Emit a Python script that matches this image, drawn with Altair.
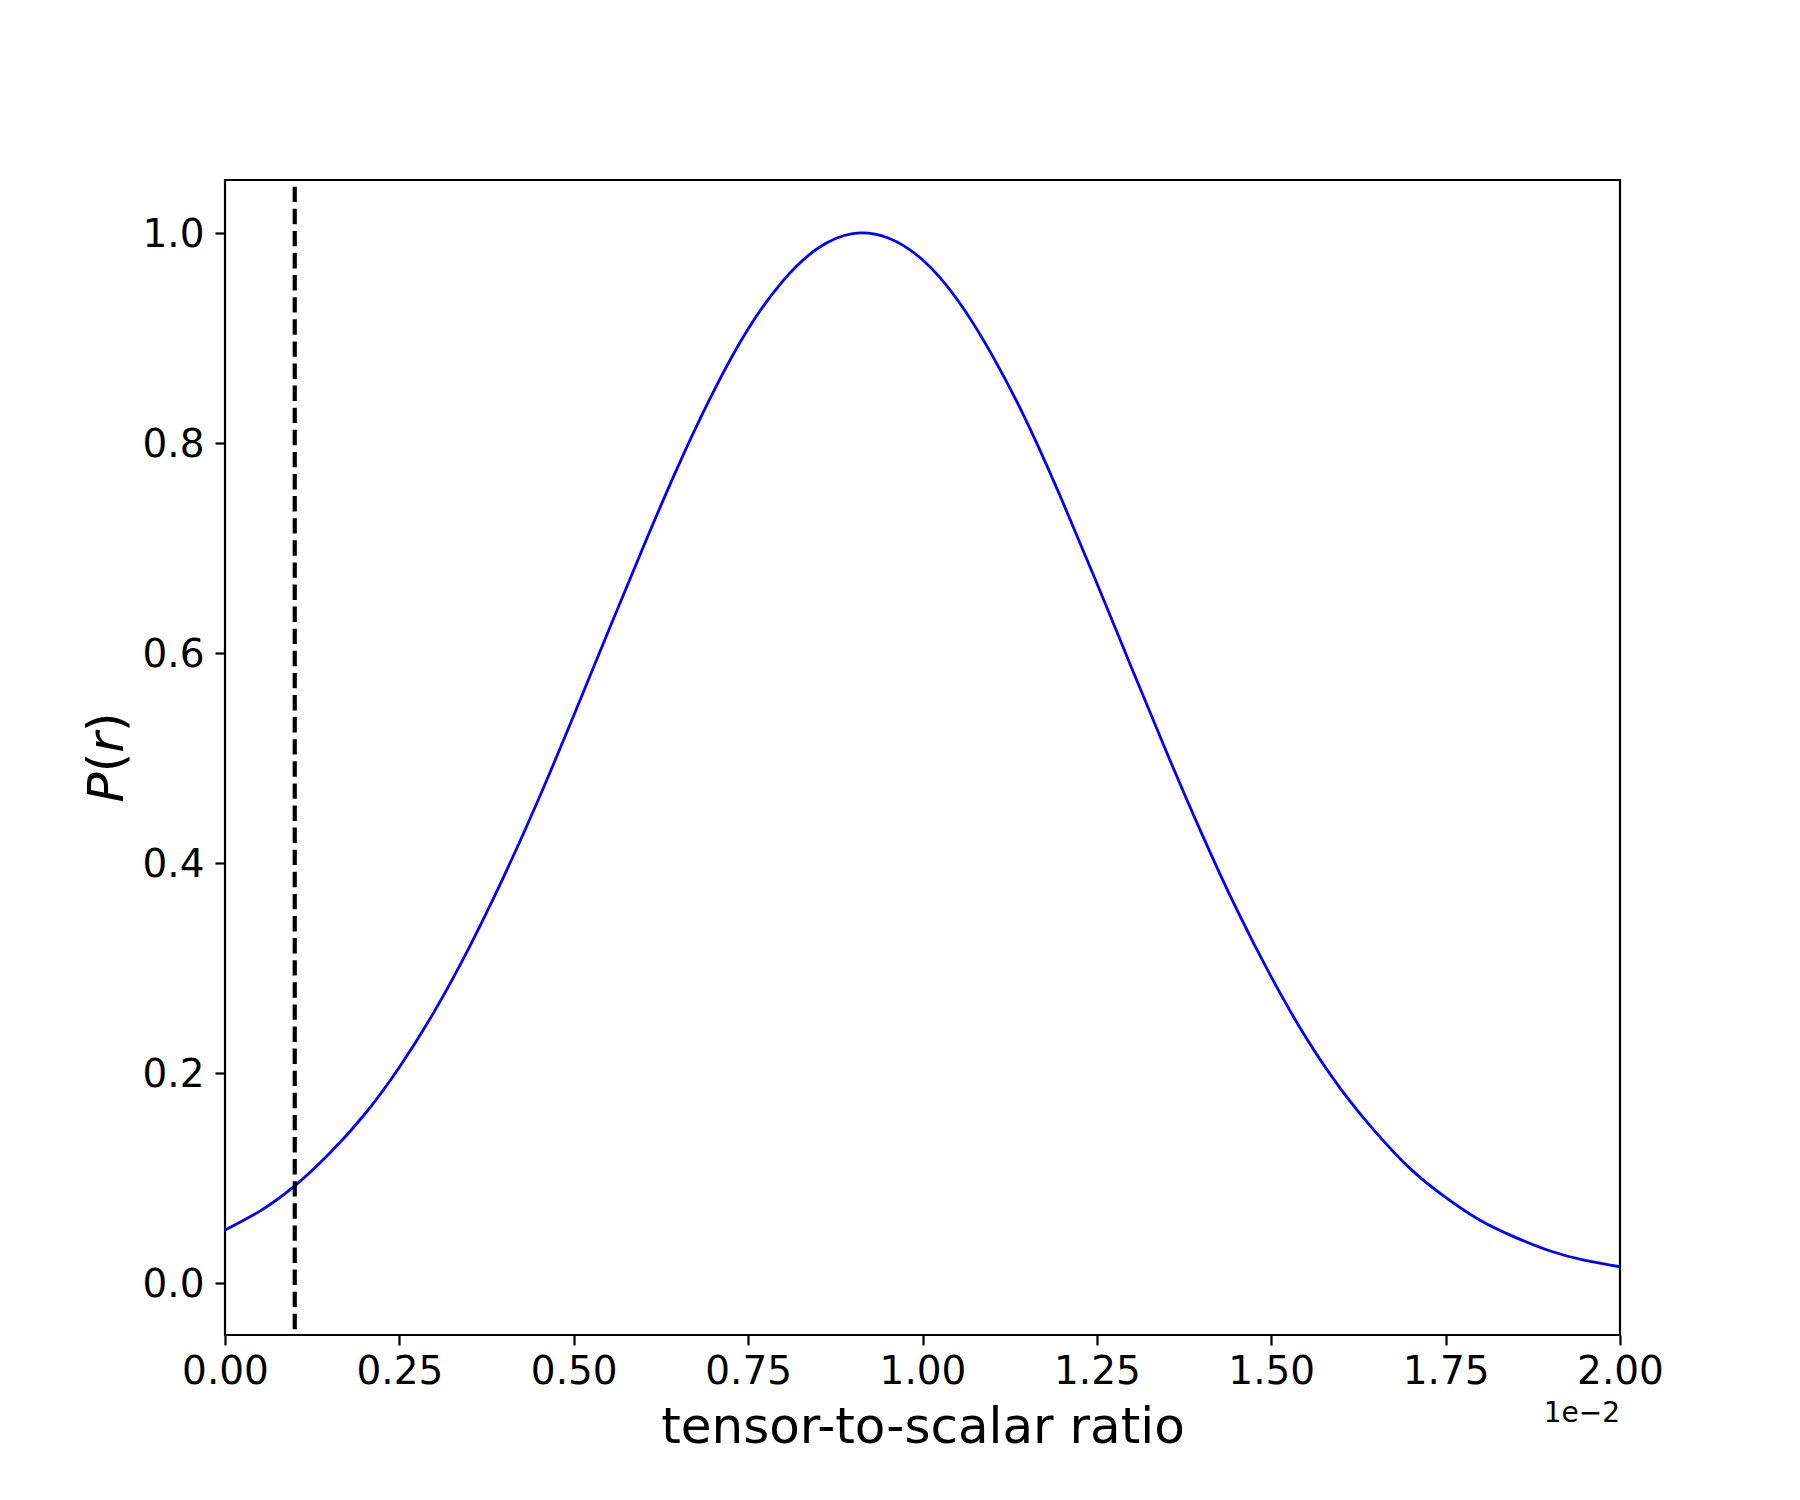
import altair as alt
import pandas as pd

# tensor-to-scalar ratio in units of 1e-2, and normalised probability P(r)
r_vals = [0.00, 0.05, 0.10, 0.15, 0.20, 0.25, 0.30, 0.35, 0.40, 0.45,
          0.50, 0.55, 0.60, 0.65, 0.70, 0.75, 0.80, 0.85, 0.90, 0.95,
          1.00, 1.05, 1.10, 1.15, 1.20, 1.25, 1.30, 1.35, 1.40, 1.45,
          1.50, 1.55, 1.60, 1.65, 1.70, 1.75, 1.80, 1.85, 1.90, 1.95, 2.00]
p_vals = [0.050, 0.068, 0.092, 0.123, 0.160, 0.205, 0.258, 0.319, 0.387, 0.461,
          0.540, 0.621, 0.701, 0.778, 0.848, 0.908, 0.954, 0.985, 0.999, 0.995,
          0.974, 0.936, 0.883, 0.819, 0.745, 0.666, 0.585, 0.505, 0.428, 0.356,
          0.291, 0.233, 0.184, 0.143, 0.108, 0.081, 0.059, 0.043, 0.030, 0.021, 0.015]
vline_r = [0.1]
x_ticks = [0.0, 0.25, 0.5, 0.75, 1.0, 1.25, 1.5, 1.75, 2.0]
y_ticks = [0.0, 0.2, 0.4, 0.6, 0.8, 1.0]
x_title = "tensor-to-scalar ratio"
# y title P(r): italic letters, upright parentheses (mathtext style)
y_title_parts = ["P", "(", "r", ")"]
y_title_styles = ["italic", "normal", "italic", "normal"]
offset_text = "1e\u22122"

W, H = 1395, 1155
FONT = "DejaVu Sans"

curve_df = pd.DataFrame({"r": r_vals, "p": p_vals})
vline_df = pd.DataFrame({"r": vline_r})

x_scale = alt.Scale(domain=[0, 2], nice=False, zero=False)
y_scale = alt.Scale(domain=[-0.05, 1.05], nice=False, zero=False)

x_axis = alt.Axis(
    values=x_ticks, format=".2f", title=x_title, grid=False, domain=False,
    tickColor="black", tickWidth=2.2, tickSize=10,
    labelFont=FONT, labelFontSize=39, labelColor="black",
    labelBaseline="alphabetic", labelPadding=38, labelFlush=False,
    labelOverlap=False, labelBound=False,
    titleFont=FONT, titleFontSize=50, titleFontWeight="normal", titleColor="black",
    titleBaseline="alphabetic", titleAnchor="middle", titleX=W / 2, titleY=107.5,
    titleAlign="center",
)
y_axis = alt.Axis(
    values=y_ticks, format=".1f", title=None, grid=False, domain=False,
    tickColor="black", tickWidth=2.2, tickSize=10,
    labelFont=FONT, labelFontSize=39, labelColor="black",
    labelBaseline="alphabetic", labelOffset=14, labelPadding=11, labelFlush=False,
    labelOverlap=False, labelBound=False,
)

curve = alt.Chart(curve_df).mark_line(
    color="#0000ff", strokeWidth=2.8, interpolate="natural", clip=True
).encode(
    x=alt.X("r:Q", scale=x_scale, axis=x_axis),
    y=alt.Y("p:Q", scale=y_scale, axis=y_axis),
)

vline = alt.Chart(vline_df).mark_rule(
    color="black", strokeWidth=4.2, strokeDash=[15.4, 6.7], strokeDashOffset=15.4
).encode(
    x=alt.X("r:Q", scale=x_scale),
    y=alt.value(0),
    y2=alt.value(H),
)

offset = alt.Chart(pd.DataFrame({"t": [offset_text]})).mark_text(
    font=FONT, fontSize=28, color="black", align="right", baseline="alphabetic"
).encode(
    x=alt.value(W),
    y=alt.value(1242.4),
    text="t:N",
)

# rotated y-axis title pieces, laid out upward from the bottom
advances = [30.2, 19.5, 20.6, 19.5]
total = sum(advances)
start = H / 2 + total / 2
title_layers = []
pos = start
for part, style, adv in zip(y_title_parts, y_title_styles, advances):
    title_layers.append(
        alt.Chart(pd.DataFrame({"t": [part]})).mark_text(
            font=FONT, fontSize=50, fontStyle=style, color="black",
            align="left", baseline="alphabetic", angle=270,
        ).encode(x=alt.value(-102), y=alt.value(pos), text="t:N")
    )
    pos -= adv

chart = alt.layer(curve, vline, offset, *title_layers).properties(
    width=W, height=H,
    padding={"left": 217, "top": 172, "right": 172, "bottom": 157},
    autosize=alt.AutoSizeParams(type="none"),
    background="white",
).configure_view(
    stroke="black", strokeWidth=2.2, fill="white"
)

chart.save("out.html", embed_options={"renderer": "svg", "actions": False})
